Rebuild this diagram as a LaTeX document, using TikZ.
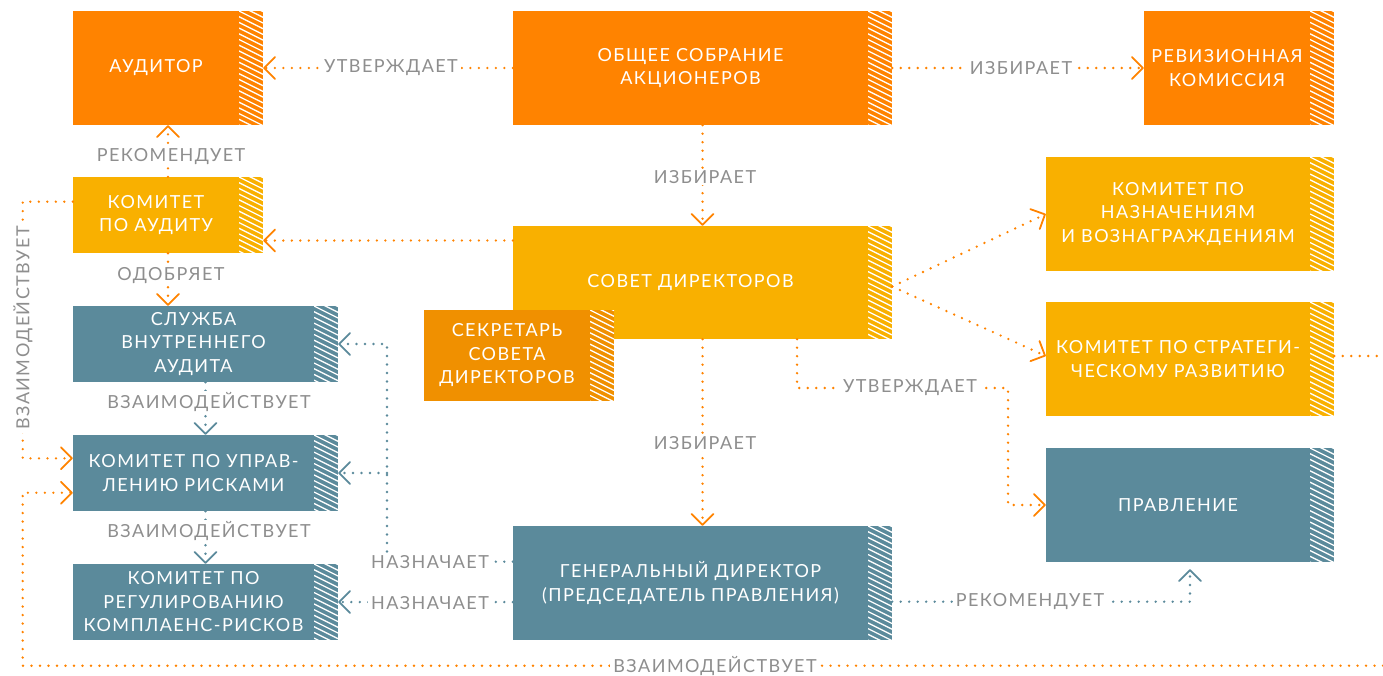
\documentclass[tikz,border=0pt]{standalone}
\usepackage{fontspec}
\setmainfont{Lato}[LetterSpace=8]
\usetikzlibrary{arrows.meta,calc}
\definecolor{cOr}{HTML}{FF8300}
\definecolor{cYe}{HTML}{F9B000}
\definecolor{cSe}{HTML}{F09000}
\definecolor{cTe}{HTML}{5B8A9B}
\definecolor{cGr}{HTML}{8E8E8E}
\tikzset{
  box/.style={rectangle, inner sep=0pt, draw=none},
  boxtext/.style={text=white, align=center, font=\fontsize{18}{23.5}\selectfont, inner sep=0pt},
  hatchline/.style={white, line width=1.3pt},
  lbl/.style={fill=white, text=cGr, font=\fontsize{18}{23}\selectfont, inner xsep=3pt, inner ysep=1pt},
  dotsO/.style={draw=cOr, line width=2.6pt, line cap=round, dash pattern=on 0pt off 8.5pt},
  dotsT/.style={dotsO, draw=cTe},
  >={Straight Barb[length=11pt, width=22pt, line width=1.8pt, round]},
}
\newcommand{\mkbox}[7]{%
  \node[box, fill=#6, minimum width={(#4-#2)*1pt}, minimum height={(#5-#3)*1pt}] (#1) at ({(#2+#4)/2},{(#3+#5)/2}) {};
  \begin{scope}
    \clip (#4-24,#3) rectangle (#4,#5);
    \foreach \k in {-3,...,21} \draw[hatchline] (#4-24,{#3+\k*5.7}) -- ++(24,12);
  \end{scope}
  \node[boxtext] (#1t) at ($(#1.center)+(-12,0)$) {#7};
}
\begin{document}
\begin{tikzpicture}[x=1pt,y=-1pt]
\useasboundingbox (0,0) rectangle (1383,675);
% boxes
\mkbox{aud}{73}{11}{263}{125}{cOr}{АУДИТОР}
\mkbox{osa}{513}{11}{892}{125}{cOr}{ОБЩЕЕ СОБРАНИЕ\\АКЦИОНЕРОВ}
\mkbox{rev}{1144}{11}{1334}{125}{cOr}{РЕВИЗИОННАЯ\\КОМИССИЯ}
\mkbox{kau}{73}{177}{263}{253}{cYe}{КОМИТЕТ\\ПО АУДИТУ}
\mkbox{sov}{513}{226}{892}{339}{cYe}{СОВЕТ ДИРЕКТОРОВ}
\mkbox{nazn}{1046}{157}{1334}{271}{cYe}{КОМИТЕТ ПО\\НАЗНАЧЕНИЯМ\\И ВОЗНАГРАЖДЕНИЯМ}
\mkbox{strat}{1046}{302}{1334}{416}{cYe}{КОМИТЕТ ПО СТРАТЕГИ-\\ЧЕСКОМУ РАЗВИТИЮ}
\mkbox{sek}{424}{310}{614}{401}{cSe}{СЕКРЕТАРЬ\\СОВЕТА\\ДИРЕКТОРОВ}
\mkbox{sluz}{73}{306}{338}{382}{cTe}{СЛУЖБА\\ВНУТРЕННЕГО\\АУДИТА}
\mkbox{risk}{73}{435}{338}{511}{cTe}{КОМИТЕТ ПО УПРАВ-\\ЛЕНИЮ РИСКАМИ}
\mkbox{kompl}{73}{564}{338}{640}{cTe}{КОМИТЕТ ПО\\РЕГУЛИРОВАНИЮ\\КОМПЛАЕНС-РИСКОВ}
\mkbox{prav}{1046}{448}{1334}{562}{cTe}{ПРАВЛЕНИЕ}
\mkbox{gd}{513}{526}{892}{640}{cTe}{ГЕНЕРАЛЬНЫЙ ДИРЕКТОР\\(ПРЕДСЕДАТЕЛЬ ПРАВЛЕНИЯ)}
% coordinates
\coordinate (sovA) at ($(sov.north west)+(0,14.7)$);
\coordinate (sovE) at ($(sov.east)+(0,4)$);
\coordinate (stratW) at ($(strat.west)+(0,-3)$);
\coordinate (stratE) at ($(strat.east)+(0,-3)$);
\coordinate (redge) at ($(strat.east)+(49,-3)$);
\coordinate (sovS2) at ($(sov.south)+(94.5,0)$);
\coordinate (ut1) at (1008,388);
\coordinate (gdr) at ($(gd.east)+(0,18.7)$);
\coordinate (gdw1) at ($(gd.west)+(0,-21.3)$);
\coordinate (vbot) at (387,561.7);
\coordinate (kauW) at ($(kau.west)+(0,-13.3)$);
\coordinate (lx) at (22.7,0);
\coordinate (riskW1) at ($(risk.west)+(0,-14.7)$);
\coordinate (riskW2) at ($(risk.west)+(0,19.7)$);
\coordinate (bR) at (1383,665.7);
% connectors
\draw[dotsO,->] (osa.west) -- (aud.east);
\draw[dotsO,->] (osa.east) -- (rev.west);
\draw[dotsO,->] (osa.south) -- (sov.north);
\draw[dotsO,->] (kau.north) -- (aud.south);
\draw[dotsO,->] (kau.south) -- (kau.south |- sluz.north);
\draw[dotsO,->] (sovA) -- (kau.east |- sovA);
\draw[dotsO,->] (sovE) -- (nazn.west);
\draw[dotsO,->] (sovE) -- (stratW);
\draw[dotsO] (stratE) -- (redge);
\draw[dotsO,->] (sovS2) |- (ut1) |- (prav.west);
\draw[dotsO,->] (sov.south) -- (gd.north);
\draw[dotsT,->,shorten >=7pt] (gdr) -| (prav.south);
\draw[dotsT,->] (gdw1) -- (vbot) |- (sluz.east);
\draw[dotsT,->] (vbot |- risk.east) -- (risk.east);
\draw[dotsT,->] (gd.west |- kompl.east) -- (kompl.east);
\draw[dotsT,->] (sluz.south) -- (risk.north);
\draw[dotsT,->] (risk.south) -- (kompl.north);
\draw[dotsO,->] (kauW) -- (kauW -| lx) -- (lx |- riskW1) -- (riskW1);
\draw[dotsO,->] (bR) -- (bR -| lx) -- (lx |- riskW2) -- (riskW2);
% labels
\node[lbl] (l1) at (391,68) {УТВЕРЖДАЕТ};
\node[lbl] (l2) at (1021,68) {ИЗБИРАЕТ};
\node[lbl] (l3) at (705,177) {ИЗБИРАЕТ};
\node[lbl] (l4) at (171,157) {РЕКОМЕНДУЕТ};
\node[lbl] (l5) at (171,276) {ОДОБРЯЕТ};
\node[lbl] (l6) at (910,388) {УТВЕРЖДАЕТ};
\node[lbl] (l7) at (705,443) {ИЗБИРАЕТ};
\node[lbl] (l8) at (1030,602) {РЕКОМЕНДУЕТ};
\node[lbl] (l9) at (430,561.7) {НАЗНАЧАЕТ};
\node[lbl] (l10) at (430,602.7) {НАЗНАЧАЕТ};
\node[lbl] (l11) at (209,402) {ВЗАИМОДЕЙСТВУЕТ};
\node[lbl] (l12) at (209,531) {ВЗАИМОДЕЙСТВУЕТ};
\node[lbl,rotate=90] (l13) at (23,328) {ВЗАИМОДЕЙСТВУЕТ};
\node[lbl] (l14) at (715,665.7) {ВЗАИМОДЕЙСТВУЕТ};
\end{tikzpicture}
\end{document}
